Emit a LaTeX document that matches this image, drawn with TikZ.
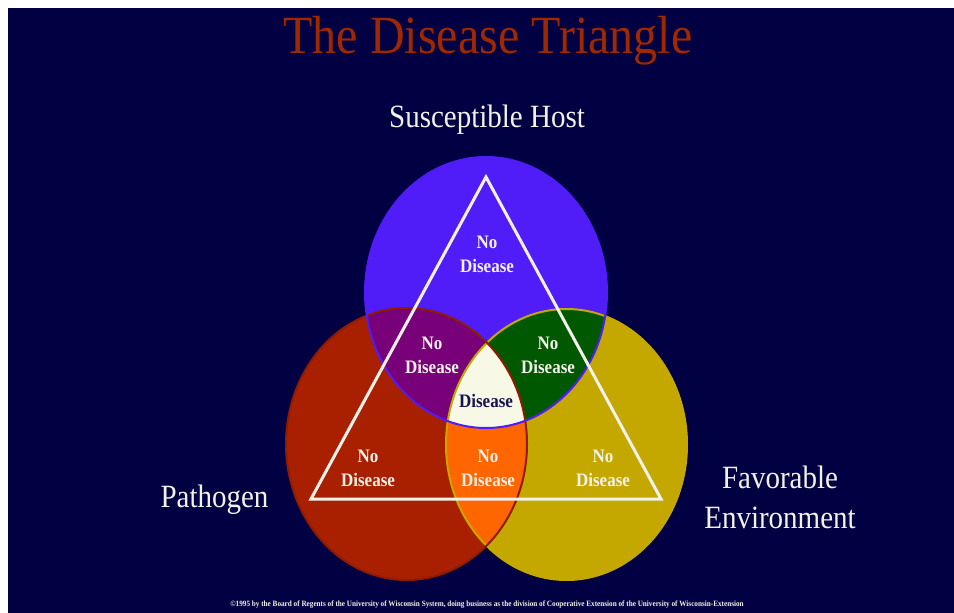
\documentclass[tikz,border=0pt]{standalone}
\usepackage{fontspec}
\setmainfont{Liberation Serif}
\usepackage{xcolor}

\definecolor{bgnavy}{RGB}{0,0,66}
\definecolor{hostblue}{RGB}{80,28,248}
\definecolor{pathred}{RGB}{168,32,0}
\definecolor{envyellow}{RGB}{196,168,0}
\definecolor{hppurple}{RGB}{120,0,120}
\definecolor{hegreen}{RGB}{0,88,0}
\definecolor{peorange}{RGB}{255,102,0}
\definecolor{cream}{RGB}{248,248,230}
\definecolor{chalk}{RGB}{242,242,235}
\definecolor{titlered}{RGB}{160,40,0}
\definecolor{inknavy}{RGB}{20,20,80}

\begin{document}
\begin{tikzpicture}[x=1pt, y=-1pt,
        ring/.style={line width=2pt},
        edge/.style={draw=chalk, line width=3pt, line join=miter},
        biglabel/.style={font=\fontsize{29}{35.7}\selectfont, text=chalk, align=center, yscale=1.12, inner sep=0pt},
        zone/.style={font=\fontsize{17}{21.4}\selectfont\bfseries, text=chalk, align=center, yscale=1.12, inner sep=0pt},
    ]
        % Background
        \fill[white] (0,0) rectangle (954,613);
        \fill[bgnavy] (8,8) rectangle (954,613);
        \useasboundingbox (0,0) rectangle (954,613);

        % Centres of the three circles
        \coordinate (hostc) at (486,292.5);
        \coordinate (pathc) at (406.5,444);
        \coordinate (envc) at (566.5,444.5);
        \def\hostring{(hostc) ellipse [x radius=121pt, y radius=135.5pt]}
        \def\pathring{(pathc) ellipse [x radius=120.5pt, y radius=136pt]}
        \def\envring{(envc) ellipse [x radius=120.5pt, y radius=135.5pt]}

        % Circles
        \fill[hostblue] \hostring;
        \fill[pathred] \pathring;
        \fill[envyellow] \envring;

        % Overlaps
        \begin{scope}
            \clip \hostring;
            \fill[hppurple] \pathring;
        \end{scope}
        \begin{scope}
            \clip \hostring;
            \fill[hegreen] \envring;
        \end{scope}
        \begin{scope}
            \clip \pathring;
            \fill[peorange] \envring;
        \end{scope}
        \begin{scope}
            \clip \hostring;
            \clip \pathring;
            \fill[cream] \envring;
        \end{scope}

        % Outlines
        \draw[ring, envyellow] \envring;
        \draw[ring, pathred!85!black] \pathring;
        \draw[ring, hostblue] \hostring;

        % Triangle
        \coordinate (apex) at (486,177);
        \coordinate (baseleft) at (311,499);
        \coordinate (baseright) at (661,499);
        \draw[edge] (apex) -- (baseright) -- (baseleft) -- cycle;

        % Title and corner labels
        \node[biglabel, font=\fontsize{48}{52}\selectfont, text=titlered, anchor=base] (title) at (488,53) {The Disease Triangle};
        \node[biglabel, anchor=base] (host) at (487,127) {Susceptible Host};
        \node[biglabel, anchor=base] (pathogen) at (214.5,507) {Pathogen};
        \node[biglabel, anchor=base] (environment) at (780,528) {Favorable\\Environment};

        % Zones
        \node[zone] (nohost) at (487,254) {No\\Disease};
        \node[zone] (nohp) at (432,355) {No\\Disease};
        \node[zone] (nohe) at (548,355) {No\\Disease};
        \node[zone, text=inknavy] (disease) at (486,401) {Disease};
        \node[zone] (nopath) at (368,468) {No\\Disease};
        \node[zone] (nope) at (488,468) {No\\Disease};
        \node[zone] (noenv) at (603,468) {No\\Disease};

        % Credit line
        \node[zone, font=\fontsize{7.2}{8}\selectfont\bfseries, yscale=1] (credit) at (487,605) {\textcopyright 1995 by the Board of Regents of the University of Wisconsin System, doing business as the division of Cooperative Extension of the University of Wisconsin-Extension};
    \end{tikzpicture}
\end{document}
